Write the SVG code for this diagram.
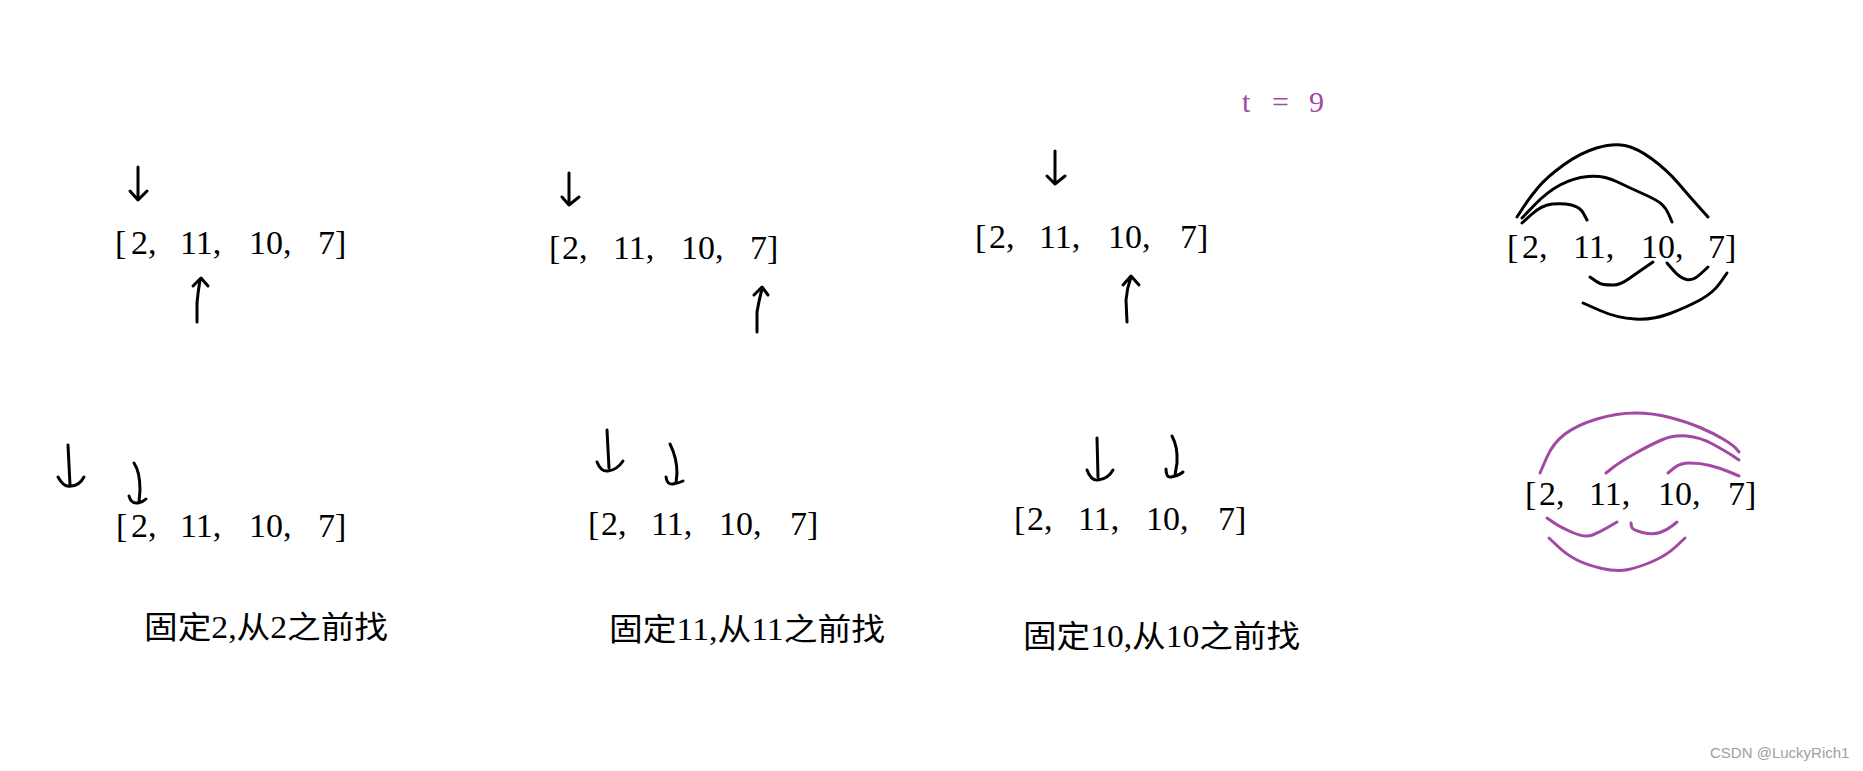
<svg xmlns="http://www.w3.org/2000/svg" width="1863" height="771" viewBox="0 0 1863 771">
<style>
.arr{font-family:'Liberation Serif','DejaVu Serif',serif;font-size:34px;fill:#000}
.lbl{font-family:'Liberation Serif','Noto Sans CJK SC',sans-serif;font-size:31px;fill:#000}
.t{font-family:'Liberation Serif','DejaVu Serif',serif;font-size:30px;fill:#a349a4}
.wm{font-family:'Liberation Sans','DejaVu Sans',sans-serif;font-size:15px;fill:#a0a0a0}
.k{fill:none;stroke:#000;stroke-width:3;stroke-linecap:round;stroke-linejoin:round}
.p{fill:none;stroke:#a349a4;stroke-width:3;stroke-linecap:round;stroke-linejoin:round}
</style>
<rect width="1863" height="771" fill="#fff"/>
<g id="target"><text class="t" y="112"><tspan x="1242">t</tspan><tspan x="1272">=</tspan><tspan x="1309">9</tspan></text></g>
<g id="array1"><text class="arr" y="254"><tspan x="115">[</tspan><tspan x="131">2,</tspan><tspan x="180">11,</tspan><tspan x="249">10,</tspan><tspan x="318">7]</tspan></text></g>
<g id="array2"><text class="arr" y="259"><tspan x="549">[</tspan><tspan x="562">2,</tspan><tspan x="613">11,</tspan><tspan x="681">10,</tspan><tspan x="750">7]</tspan></text></g>
<g id="array3"><text class="arr" y="248"><tspan x="975">[</tspan><tspan x="989">2,</tspan><tspan x="1039">11,</tspan><tspan x="1108">10,</tspan><tspan x="1180">7]</tspan></text></g>
<g id="array4"><text class="arr" y="258"><tspan x="1507">[</tspan><tspan x="1522">2,</tspan><tspan x="1573">11,</tspan><tspan x="1641">10,</tspan><tspan x="1708">7]</tspan></text></g>
<g id="array5"><text class="arr" y="537"><tspan x="116">[</tspan><tspan x="131">2,</tspan><tspan x="180">11,</tspan><tspan x="249">10,</tspan><tspan x="318">7]</tspan></text></g>
<g id="array6"><text class="arr" y="535"><tspan x="588">[</tspan><tspan x="601">2,</tspan><tspan x="651">11,</tspan><tspan x="719">10,</tspan><tspan x="790">7]</tspan></text></g>
<g id="array7"><text class="arr" y="530"><tspan x="1014">[</tspan><tspan x="1027">2,</tspan><tspan x="1078">11,</tspan><tspan x="1146">10,</tspan><tspan x="1218">7]</tspan></text></g>
<g id="array8"><text class="arr" y="505"><tspan x="1525">[</tspan><tspan x="1539">2,</tspan><tspan x="1589">11,</tspan><tspan x="1658">10,</tspan><tspan x="1728">7]</tspan></text></g>
<g id="label1"><text class="lbl" x="144" y="638" textLength="244" lengthAdjust="spacingAndGlyphs">固定2,从2之前找</text></g>
<g id="label2"><text class="lbl" x="609" y="640" textLength="276" lengthAdjust="spacingAndGlyphs">固定11,从11之前找</text></g>
<g id="label3"><text class="lbl" x="1023" y="647" textLength="277" lengthAdjust="spacingAndGlyphs">固定10,从10之前找</text></g>
<g id="connectors">
<path class="k" d="M138,167 L138,199 M130,191 L138,200 L147,191"/>
<path class="k" d="M197,322 L197,303 Q198,292 200,280 M193,286 L201,278 L208,286"/>
<path class="k" d="M569,173 L569,204 M562,197 L569,205 L579,197"/>
<path class="k" d="M757,332 L757,312 Q759,300 762,289 M754,295 L762,287 L768,295"/>
<path class="k" d="M1055,151 L1055,183 M1047,176 L1055,184 L1065,176"/>
<path class="k" d="M1127,322 L1126,300 Q1127,288 1131,277 M1123,285 L1131,276 L1139,285"/>
<path class="k" d="M68,445 L70,485 M58,477 Q64,488 71,486 Q79,486 84,477"/>
<path class="k" d="M134,463 Q140,472 140,490 L139,502 M129,496 Q131,504 138,503 Q143,502 146,499"/>
<path class="k" d="M607,430 L609,468 M597,462 Q601,472 608,471 Q617,470 623,461"/>
<path class="k" d="M670,444 Q677,458 677,473 L676,483 M666,477 Q667,485 673,484 Q679,483 683,481"/>
<path class="k" d="M1097,438 L1098,477 M1087,470 Q1091,481 1098,480 Q1108,479 1113,470"/>
<path class="k" d="M1172,436 Q1178,447 1177,463 L1175,475 M1166,469 Q1166,478 1171,477 Q1178,476 1183,472"/>
<path class="k" d="M1517,217 L1523.5,207 Q1530,197 1538.5,187 Q1547,177 1563.5,165 Q1580,153 1596.5,148 Q1613,143 1625,145.5 Q1637,148 1652,159 Q1667,170 1678.5,183.5 Q1690,197 1699,207 L1708,217"/>
<path class="k" d="M1522,218 L1534.5,205 Q1547,192 1560,185 Q1573,178 1588,176.5 Q1603,175 1616.5,181.5 Q1630,188 1643.5,194 Q1657,200 1661.5,204 Q1666,208 1669,215 L1672,222"/>
<path class="k" d="M1522,223 L1532,214 Q1542,205 1552.5,204 Q1563,203 1571.5,205 Q1580,207 1583.5,213.5 L1587,220"/>
<path class="k" d="M1590,277 L1595,280.5 Q1600,284 1603.5,284.5 Q1607,285 1613.5,285 Q1620,285 1628.5,279 Q1637,273 1645,267.5 L1653,262"/>
<path class="k" d="M1667,263 L1673.5,270.5 Q1680,278 1686.5,279.5 Q1693,281 1700.5,274 L1708,267"/>
<path class="k" d="M1583,303 L1600,310.5 Q1617,318 1635,319 Q1653,320 1670,313.5 Q1687,307 1700,300 Q1713,293 1720,283 L1727,273"/>
<path class="p" d="M1540,473 L1546.5,458 Q1553,443 1565,434 Q1577,425 1597,419 Q1617,413 1635,413 Q1653,413 1670,417.5 Q1687,422 1700,427.5 Q1713,433 1723,439 Q1733,445 1736,448.5 L1739,452"/>
<path class="p" d="M1606,473 L1613,467.5 Q1620,462 1635,453.5 Q1650,445 1661.5,440 Q1673,435 1686.5,436 Q1700,437 1713.5,444.5 Q1727,452 1733,456 L1739,460"/>
<path class="p" d="M1668,473 L1674,468 Q1680,463 1690,463 Q1700,463 1710,465.5 Q1720,468 1729.5,472 L1739,476"/>
<path class="p" d="M1547,518 L1553.5,522.5 Q1560,527 1572.5,532.5 Q1585,538 1592.5,535 Q1600,532 1608.5,527 L1617,522"/>
<path class="p" d="M1631,523 L1631.5,526.5 Q1632,530 1642.5,532.5 Q1653,535 1660,532.5 Q1667,530 1672,526 L1677,522"/>
<path class="p" d="M1549,538 L1558,546.5 Q1567,555 1577,560 Q1587,565 1602,568.5 Q1617,572 1628.5,569.5 Q1640,567 1653.5,561 Q1667,555 1676,546.5 L1685,538"/>
</g>
<text class="wm" x="1710" y="758">CSDN @LuckyRich1</text>
</svg>
